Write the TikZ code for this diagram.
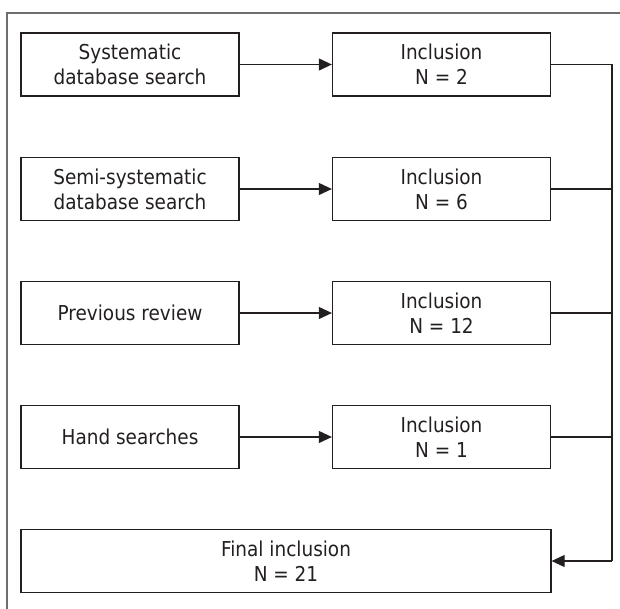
\documentclass[tikz,border=0pt]{standalone}
\usepackage{fontspec}
\setmainfont[FakeStretch=0.9]{DejaVu Sans}
\usetikzlibrary{arrows.meta}
\definecolor{ink}{HTML}{231F20}
\definecolor{framegray}{HTML}{6D6E70}
\begin{document}
\begin{tikzpicture}[x=1pt,y=-1pt,
  box/.style={draw=ink,line width=1.3pt,minimum width=218pt,minimum height=63pt,
    inner sep=0pt,align=center,text=ink,font=\fontsize{20.5}{25}\selectfont},
  wide/.style={box,minimum width=530pt},
  link/.style={draw=ink,line width=1.1pt},
  tip/.style={link,-{Triangle[length=13pt,width=12pt]}}]
\useasboundingbox (0,0) rectangle (620,608);
\clip (0,0) rectangle (620,608);
% outer frame
\draw[framegray,line width=2pt] (7,13) rectangle (640,640);
% search sources
\node[box] (s1) at (130,64.5) {Systematic\\database search};
\node[box] (s2) at (130,189) {Semi-systematic\\database search};
\node[box] (s3) at (130,313) {Previous review};
\node[box] (s4) at (130,437) {Hand searches};
% inclusion counts
\node[box] (i1) at (441.5,64.5) {Inclusion\\N = 2};
\node[box] (i2) at (441.5,189) {Inclusion\\N = 6};
\node[box] (i3) at (441.5,313) {Inclusion\\N = 12};
\node[box] (i4) at (441.5,437) {Inclusion\\N = 1};
% final result
\node[wide] (fin) at (286,561) {Final inclusion\\N = 21};
\coordinate (top) at (612,64.5);
\coordinate (bot) at (612,561);
\foreach \k in {1,...,4} {
  \draw[tip] (s\k) -- (i\k);
}
\draw[link] (i1.east) -- (top) -- (bot);
\draw[link] (i2.east) -- (i2.east -| top);
\draw[link] (i3.east) -- (i3.east -| top);
\draw[link] (i4.east) -- (i4.east -| top);
\draw[tip] (bot) -- (fin.east);
\end{tikzpicture}
\end{document}
